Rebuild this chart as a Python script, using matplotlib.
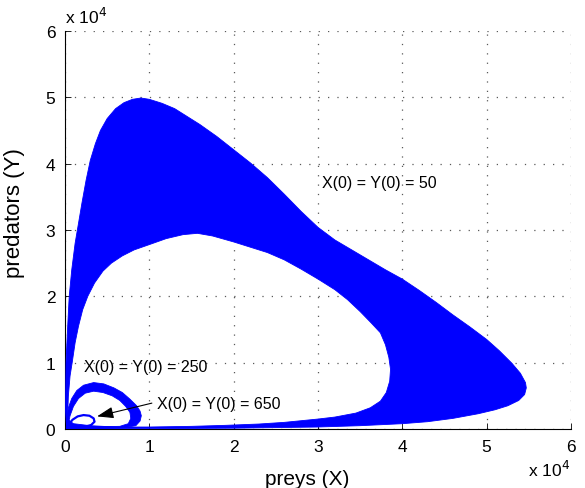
import matplotlib
matplotlib.use("Agg")
import matplotlib.pyplot as plt
import numpy as np
from matplotlib.path import Path
from matplotlib.patches import PathPatch

plt.rcParams['font.family'] = ['Liberation Sans', 'DejaVu Sans']

# ---- data (units of 1e4) ----
# X(0)=Y(0)=50 : outer boundary of the band
big_outer_x = [0.02, 0.005, 0.012, 0.03, 0.05, 0.08, 0.12, 0.16, 0.20, 0.25, 0.30, 0.36,
               0.42, 0.50, 0.60, 0.70, 0.80, 0.90, 1.00, 1.15, 1.30, 1.45, 1.60, 1.80,
               2.00, 2.20, 2.40, 2.60, 2.80, 3.00, 3.20, 3.40, 3.60, 3.80, 4.00, 4.20,
               4.40, 4.60, 4.80, 5.00, 5.15, 5.30, 5.40, 5.46, 5.47, 5.45, 5.38, 5.25,
               5.10, 4.90, 4.60, 4.30, 4.00, 3.50, 3.00, 2.00, 1.00, 0.30]
big_outer_y = [0.00, 0.30, 1.00, 1.50, 2.00, 2.40, 2.80, 3.10, 3.40, 3.75, 4.05, 4.30,
               4.50, 4.68, 4.83, 4.92, 4.97, 4.99, 4.97, 4.91, 4.83, 4.71, 4.59, 4.41,
               4.21, 4.01, 3.79, 3.54, 3.28, 3.04, 2.85, 2.70, 2.55, 2.40, 2.26, 2.09,
               1.91, 1.72, 1.54, 1.35, 1.18, 0.99, 0.84, 0.70, 0.62, 0.52, 0.43, 0.35,
               0.29, 0.23, 0.16, 0.11, 0.08, 0.05, 0.03, 0.012, 0.005, 0.00]
# X(0)=Y(0)=50 : inner boundary (hole)
big_inner_x = [0.03, 0.04, 0.06, 0.085, 0.12, 0.16, 0.21, 0.27, 0.35, 0.45, 0.55, 0.68,
               0.82, 1.00, 1.20, 1.40, 1.57, 1.75, 2.00, 2.20, 2.40, 2.60, 2.80, 3.00,
               3.20, 3.35, 3.50, 3.63, 3.74, 3.80, 3.84, 3.86, 3.85, 3.81, 3.74, 3.62,
               3.45, 3.20, 3.00, 2.60, 2.30, 1.90, 1.50, 1.00, 0.60, 0.30, 0.10]
big_inner_y = [0.15, 0.50, 0.80, 1.00, 1.30, 1.55, 1.80, 2.00, 2.20, 2.38, 2.50, 2.61,
               2.70, 2.78, 2.87, 2.93, 2.95, 2.91, 2.82, 2.74, 2.66, 2.55, 2.41, 2.26,
               2.10, 1.95, 1.77, 1.60, 1.45, 1.27, 1.08, 0.90, 0.72, 0.55, 0.42, 0.32,
               0.24, 0.18, 0.15, 0.10, 0.075, 0.055, 0.04, 0.03, 0.03, 0.05, 0.08]

# X(0)=Y(0)=250
mid_outer_x = [0.015, 0.02, 0.04, 0.08, 0.14, 0.22, 0.34, 0.46, 0.58, 0.68, 0.77, 0.85,
               0.89, 0.905, 0.89, 0.84, 0.70, 0.40, 0.10]
mid_outer_y = [0.01, 0.15, 0.32, 0.46, 0.58, 0.66, 0.70, 0.68, 0.62, 0.55, 0.45, 0.35,
               0.27, 0.20, 0.12, 0.05, 0.02, 0.01, 0.005]
mid_inner_x = [0.04, 0.06, 0.10, 0.16, 0.24, 0.34, 0.45, 0.56, 0.65, 0.72, 0.77, 0.78,
               0.75, 0.65, 0.45, 0.25, 0.10]
mid_inner_y = [0.08, 0.20, 0.34, 0.46, 0.54, 0.57, 0.55, 0.50, 0.43, 0.34, 0.25, 0.16,
               0.08, 0.04, 0.035, 0.04, 0.05]

# X(0)=Y(0)=650 (thin loop)
small_x = [0.03, 0.05, 0.09, 0.15, 0.22, 0.29, 0.34, 0.35, 0.31, 0.22, 0.12, 0.03]
small_y = [0.02, 0.08, 0.14, 0.19, 0.21, 0.20, 0.16, 0.11, 0.06, 0.03, 0.02, 0.02]

ticks = [0, 1, 2, 3, 4, 5, 6]
labels = ["X(0) = Y(0) = 50", "X(0) = Y(0) = 250", "X(0) = Y(0) = 650"]

BLUE = '#0000ff'


def band(ax, ox, oy, ix, iy):
    outer = np.column_stack([ox, oy])
    inner = np.column_stack([ix, iy])

    def area(p):
        x, y = p[:, 0], p[:, 1]
        return 0.5 * np.sum(x * np.roll(y, -1) - np.roll(x, -1) * y)
    if np.sign(area(outer)) == np.sign(area(inner)):
        inner = inner[::-1]
    verts = np.concatenate([outer, outer[:1], inner, inner[:1]])
    codes = ([Path.MOVETO] + [Path.LINETO] * (len(outer) - 1) + [Path.CLOSEPOLY] +
             [Path.MOVETO] + [Path.LINETO] * (len(inner) - 1) + [Path.CLOSEPOLY])
    ax.add_patch(PathPatch(Path(verts, codes), facecolor=BLUE, edgecolor=BLUE,
                           lw=0.6, joinstyle='round', zorder=3))


fig = plt.figure(figsize=(5.85, 4.89), dpi=100)
ax = fig.add_axes([65 / 585, 1 - 430 / 489, 506 / 585, 398 / 489])

band(ax, big_outer_x, big_outer_y, big_inner_x, big_inner_y)
band(ax, mid_outer_x, mid_outer_y, mid_inner_x, mid_inner_y)
ax.plot(small_x, small_y, color=BLUE, lw=1.6, zorder=3, solid_joinstyle='round')

ax.set_xlim(0, 6)
ax.set_ylim(0, 6)
ax.set_xticks(ticks)
ax.set_yticks(ticks)
ax.set_xticklabels([str(t) for t in ticks])
ax.set_yticklabels([str(t) for t in ticks])
ax.tick_params(direction='in', length=4, width=0.6, labelsize=12.5, pad=7)
for s in ['top', 'right']:
    ax.spines[s].set_visible(False)
for s in ['left', 'bottom']:
    ax.spines[s].set_linewidth(0.8)
ax.grid(True, linestyle=(0, (1, 6.5)), color='0.35', lw=0.9, zorder=0)
ax.set_axisbelow(True)

ax.text(3.05, 3.72, labels[0], fontsize=11.5, va='center', ha='left', zorder=5)
ax.text(0.22, 0.945, labels[1], fontsize=11.5, va='center', ha='left', zorder=5)
ax.text(1.09, 0.39, labels[2], fontsize=11.5, va='center', ha='left', zorder=5)
ax.annotate('', xy=(0.38, 0.19), xytext=(1.03, 0.39),
            arrowprops=dict(arrowstyle='-|>,head_length=1.0,head_width=0.35',
                            color='black', lw=0.8, shrinkA=0, shrinkB=0), zorder=5)

ax.set_xlabel('preys (X)', fontsize=15)
ax.set_ylabel('predators (Y)', fontsize=16)
ax.xaxis.set_label_coords(0.478, -0.10)
ax.yaxis.set_label_coords(-0.079, 0.545)

fig.text(65 / 585, 1 - 17 / 489, r'x 10$^{4}$', fontsize=12.5, ha='left', va='center')
fig.text(570 / 585, 1 - 470 / 489, r'x 10$^{4}$', fontsize=12.5, ha='right', va='center')

fig.savefig('out.png', dpi=100)
